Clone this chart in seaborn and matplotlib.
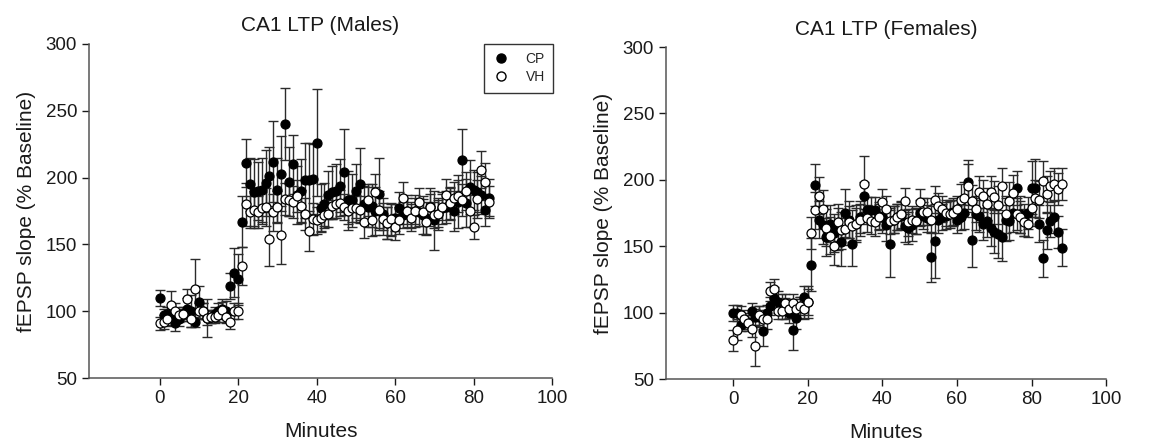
import matplotlib
matplotlib.use("Agg")
import matplotlib.pyplot as plt
from matplotlib.lines import Line2D
import numpy as np
import pandas as pd
import seaborn as sns

# male recordings, one point per minute (0-84)
male_cp = [110, 97, 98, 96, 91, 94, 98, 102, 100, 92,
           107, 100, 95, 96, 98, 100, 102, 100, 119, 129,
           124, 167, 211, 195, 189, 190, 191, 196, 201, 212,
           191, 203, 240, 197, 210, 187, 190, 198, 198, 199,
           226, 177, 180, 187, 189, 190, 194, 204, 183, 183,
           190, 195, 180, 178, 179, 175, 188, 173, 166, 168,
           170, 177, 172, 175, 172, 175, 174, 172, 170, 178,
           168, 173, 177, 178, 180, 175, 182, 213, 181, 193,
           191, 189, 187, 176, 185]
male_cp_err = [6, 5, 5, 6, 6, 5, 5, 8, 12, 4,
               12, 6, 14, 5, 5, 6, 7, 8, 10, 18,
               19, 19, 18, 20, 25, 22, 24, 25, 22, 30,
               24, 28, 27, 26, 22, 22, 24, 28, 28, 26,
               40, 18, 16, 18, 20, 20, 20, 32, 22, 20,
               20, 27, 14, 15, 16, 18, 27, 12, 12, 12,
               10, 12, 10, 12, 10, 12, 10, 14, 12, 14,
               22, 12, 12, 12, 12, 15, 20, 23, 18, 20,
               15, 15, 14, 12, 14]
male_vh = [91, 92, 94, 105, 100, 97, 98, 109, 94, 117,
           100, 100, 95, 96, 96, 97, 101, 96, 92, 100,
           100, 134, 180, 174, 176, 174, 177, 178, 154, 174,
           178, 157, 184, 183, 182, 186, 179, 173, 160, 169,
           168, 170, 172, 173, 179, 180, 181, 178, 175, 177,
           177, 176, 167, 183, 168, 189, 176, 169, 166, 169,
           163, 168, 185, 175, 170, 175, 182, 174, 167, 178,
           172, 173, 178, 187, 181, 185, 186, 183, 190, 175,
           163, 184, 206, 197, 182]
male_vh_err = [5, 5, 5, 10, 6, 5, 5, 8, 6, 22,
               6, 6, 5, 5, 5, 5, 6, 5, 5, 6,
               6, 14, 16, 12, 14, 12, 12, 14, 20, 14,
               12, 22, 12, 12, 12, 12, 12, 12, 15, 12,
               10, 10, 10, 10, 10, 10, 10, 10, 10, 10,
               10, 10, 12, 12, 12, 14, 14, 12, 12, 12,
               10, 10, 12, 10, 10, 10, 10, 10, 10, 10,
               10, 10, 10, 12, 12, 12, 12, 12, 14, 12,
               9, 14, 14, 14, 12]

# female recordings, one point per minute (0-88)
female_cp = [100, 100, 91, 94, 93, 101, 97, 97, 86, 100,
             105, 111, 108, 106, 103, 100, 87, 96, 104, 112,
             108, 136, 196, 170, 166, 157, 167, 160, 163, 153,
             175, 170, 152, 167, 172, 188, 177, 177, 177, 173,
             172, 166, 152, 170, 172, 173, 165, 164, 166, 169,
             175, 173, 171, 142, 154, 170, 172, 173, 175, 176,
             170, 172, 175, 198, 155, 174, 173, 167, 169, 164,
             161, 159, 157, 170, 169, 175, 194, 174, 170, 175,
             194, 194, 167, 141, 162, 169, 172, 161, 149]
female_cp_err = [6, 6, 5, 6, 5, 6, 6, 8, 11, 6,
                 7, 8, 8, 8, 8, 8, 15, 8, 8, 8,
                 10, 20, 16, 14, 14, 14, 14, 14, 16, 18,
                 18, 14, 17, 14, 12, 10, 10, 10, 10, 10,
                 12, 12, 25, 10, 10, 10, 12, 12, 12, 10,
                 10, 10, 10, 19, 28, 10, 10, 10, 10, 10,
                 10, 10, 12, 17, 21, 12, 12, 12, 12, 14,
                 16, 18, 18, 16, 14, 14, 13, 14, 12, 12,
                 20, 22, 14, 14, 14, 12, 12, 12, 14]
female_vh = [79, 87, 98, 95, 92, 88, 75, 98, 95, 95,
             116, 118, 101, 101, 107, 103, 107, 103, 105, 103,
             108, 160, 177, 188, 178, 164, 158, 150, 168, 162,
             163, 168, 165, 167, 170, 197, 171, 169, 168, 172,
             183, 178, 169, 170, 172, 174, 184, 168, 170, 169,
             183, 176, 176, 170, 185, 180, 178, 175, 174, 175,
             178, 185, 186, 195, 184, 178, 191, 188, 182, 191,
             187, 181, 195, 174, 184, 190, 174, 172, 168, 167,
             179, 186, 185, 199, 189, 195, 197, 193, 197]
female_vh_err = [8, 8, 7, 7, 6, 6, 15, 7, 7, 7,
                 7, 7, 6, 6, 7, 7, 7, 7, 7, 8,
                 12, 12, 14, 14, 14, 14, 14, 14, 14, 14,
                 12, 12, 12, 12, 12, 21, 10, 10, 10, 10,
                 10, 10, 10, 10, 10, 10, 10, 10, 10, 10,
                 10, 10, 10, 10, 10, 10, 10, 10, 10, 10,
                 10, 12, 12, 17, 12, 10, 12, 12, 12, 12,
                 12, 14, 14, 14, 14, 14, 12, 12, 10, 10,
                 14, 14, 14, 15, 14, 12, 12, 12, 12]

x_ticks = [0, 20, 40, 60, 80, 100]
y_ticks = [50, 100, 150, 200, 250, 300]
GROUP_COLORS = {"CP": "black", "VH": "white"}


def build_frame(cp, cp_err, vh, vh_err):
    frames = []
    for group, vals, errs in (("CP", cp, cp_err), ("VH", vh, vh_err)):
        frames.append(pd.DataFrame({
            "minute": np.arange(len(vals)),
            "slope": vals,
            "err": errs,
            "group": group,
        }))
    return pd.concat(frames, ignore_index=True)


def draw_panel(ax, data, title):
    for group in ("CP", "VH"):
        sub = data[data["group"] == group]
        ax.errorbar(sub["minute"], sub["slope"], yerr=sub["err"], fmt="none",
                    ecolor="#2b2b2b", elinewidth=1.0, capsize=3.5, capthick=1.0, zorder=2)
    for z, group in enumerate(("CP", "VH")):
        sub = data[data["group"] == group]
        sns.scatterplot(data=sub, x="minute", y="slope", ax=ax, color=GROUP_COLORS[group],
                        edgecolor="black", linewidth=0.9, s=42, legend=False, zorder=3 + z)
    ax.set_xlim(-18, 100)
    ax.set_ylim(50, 300)
    ax.set_xticks(x_ticks)
    ax.set_yticks(y_ticks)
    ax.set_title(title, fontsize=15, pad=9, color="#1a1a1a")
    ax.set_xlabel("Minutes", fontsize=15, labelpad=11, color="#1a1a1a")
    ax.set_ylabel("fEPSP slope (% Baseline)", fontsize=15, labelpad=7, color="#1a1a1a")
    ax.tick_params(labelsize=13.5, colors="#1a1a1a", length=5, width=1)
    for side in ("left", "bottom"):
        ax.spines[side].set_color("#555555")
        ax.spines[side].set_linewidth(1.1)
    sns.despine(ax=ax)


sns.set_theme(style="ticks")
plt.rcParams["font.family"] = ["Liberation Sans", "DejaVu Sans"]

fig = plt.figure(figsize=(11.5, 4.48), dpi=100)
ax_m = fig.add_axes([0.0774, 0.156, 0.4026, 0.746])
ax_f = fig.add_axes([0.579, 0.154, 0.383, 0.741])

draw_panel(ax_m, build_frame(male_cp, male_cp_err, male_vh, male_vh_err), "CA1 LTP (Males)")
draw_panel(ax_f, build_frame(female_cp, female_cp_err, female_vh, female_vh_err), "CA1 LTP (Females)")

handles = [Line2D([], [], marker="o", linestyle="none", markersize=6.5,
                  markerfacecolor=GROUP_COLORS[g], markeredgecolor="black", label=g)
           for g in ("CP", "VH")]
leg = fig.legend(handles=handles, loc="upper right", bbox_to_anchor=(0.487, 0.918),
                 fontsize=10, frameon=True, fancybox=False, edgecolor="black",
                 handletextpad=1.2, borderpad=0.6, labelspacing=0.3, handlelength=1.2)
leg.get_frame().set_linewidth(1.0)

fig.savefig("out.png", dpi=100)
